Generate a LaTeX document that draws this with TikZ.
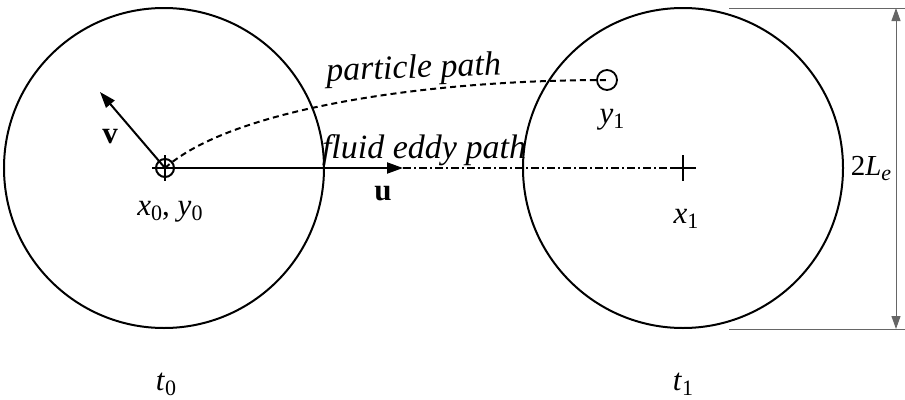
\documentclass[tikz,border=0pt]{standalone}
\usepackage{fontspec}
\setmainfont{Liberation Serif}
\usetikzlibrary{arrows.meta,positioning}
\newcommand\idx[2]{\textit{#1}\raisebox{-0.18em}{\fontsize{22}{22}\selectfont #2}}

\begin{document}
\begin{tikzpicture}[
  x=1pt, y=-1pt,
  eddy/.style={circle, draw, line width=2pt, minimum size=320pt, inner sep=0pt},
  lbl/.style={font=\fontsize{31}{31}\selectfont, inner sep=0pt, anchor=base},
  pathlbl/.style={font=\fontsize{34}{34}\selectfont\itshape, inner sep=0pt, anchor=base},
  arr/.style={-{Triangle[length=16pt, width=11pt]}, line width=2pt},
  dimline/.style={draw=black!60, line width=1pt}
]
  \useasboundingbox (0,0) rectangle (905,399);
  \node[eddy] (e0) at (164,168) {};
  \node[eddy] (e1) at (683,168) {};
  \coordinate (x0) at (165,168);
  \coordinate (x1) at (683,168);
  \coordinate (u) at (403,168);
  \coordinate (v) at (100,92);
  \node[circle, draw, line width=1.8pt, minimum size=20pt, inner sep=0pt] (y1) at (607,80) {};
  % centre marks
  \draw[line width=2pt] (x0) circle (9pt);
  \draw[line width=1.6pt] ([xshift=-13pt]x0) -- ([xshift=13pt]x0) ([yshift=13pt]x0) -- ([yshift=-13pt]x0);
  \draw[line width=2pt] ([xshift=-13pt]x1) -- ([xshift=13pt]x1) ([yshift=13pt]x1) -- ([yshift=-13pt]x1);
  % paths
  \draw[line width=2pt, dash pattern=on 6pt off 4pt] (x0) .. controls (230,110) and (420,80) .. (y1.center);
  \draw[arr] (x0) -- (u);
  \draw[arr] (x0) -- (v);
  \draw[line width=1.6pt, dash pattern=on 8pt off 3pt on 2pt off 3pt] (u) -- (x1);
  % labels
  \node[pathlbl, rotate=2] (pp) at (414,78) {particle path};
  \node[pathlbl] (fp) at (424,158) {fluid eddy path};
  \node[lbl] (vl) at (110,143) {\textbf{v}};
  \node[lbl] (ul) at (383,200) {\textbf{u}};
  \node[lbl] (x0l) at (170,215) {\idx{x}{0}, \idx{y}{0}};
  \node[lbl] (y1l) at (612,123) {\idx{y}{1}};
  \node[lbl] (x1l) at (686,223) {\idx{x}{1}};
  \node[lbl] (t0) at (166,390) {\idx{t}{0}};
  \node[lbl] (t1) at (683,390) {\idx{t}{1}};
  % eddy size
  \coordinate (dt) at (896,8);
  \coordinate (db) at (896,329);
  \draw[dimline] (729,8) -- (905,8) (729,329) -- (905,329);
  \draw[dimline, {Triangle[length=13pt, width=9pt]}-{Triangle[length=13pt, width=9pt]}] (dt) -- (db);
  \node[lbl, font=\fontsize{29}{29}\selectfont] (le) at (871,175) {2\idx{L}{\textit{e}}};
\end{tikzpicture}
\end{document}
